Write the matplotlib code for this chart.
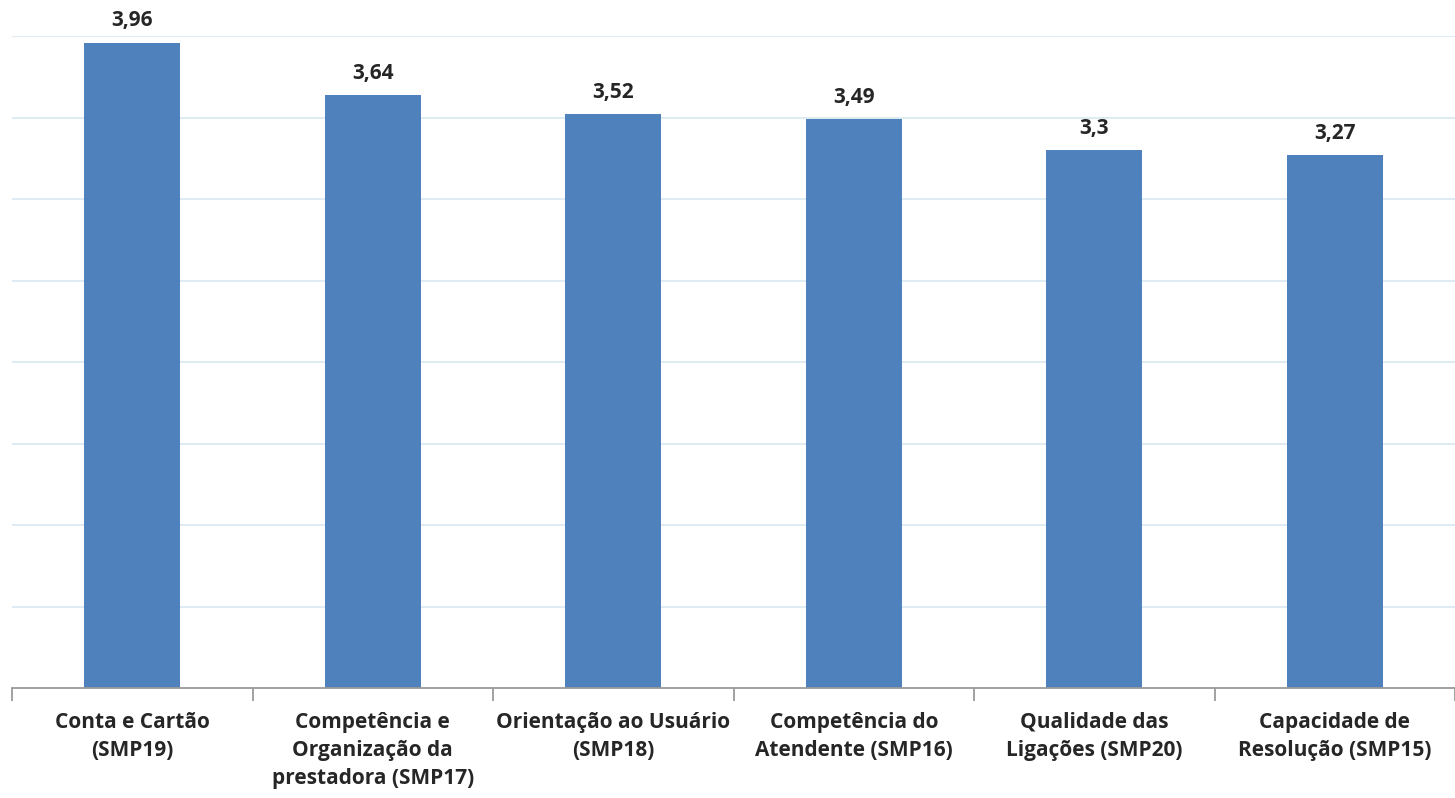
import numpy as np
from matplotlib import pyplot as plt

categories = [
    "Conta e Cartão\n(SMP19)",
    "Competência e\nOrganização da\nprestadora (SMP17)",
    "Orientação ao Usuário\n(SMP18)",
    "Competência do\nAtendente (SMP16)",
    "Qualidade das\nLigações (SMP20)",
    "Capacidade de\nResolução (SMP15)",
]
scores = [3.96, 3.64, 3.52, 3.49, 3.30, 3.27]
score_labels = ["3,96", "3,64", "3,52", "3,49", "3,3", "3,27"]

BAR_COLOR = "#4f81bd"
GRID_COLOR = "#dbe9f1"
AXIS_COLOR = "#9a9a9a"
TEXT_COLOR = "#262626"

plt.rcParams["font.family"] = ["Open Sans", "DejaVu Sans"]

fig = plt.figure(figsize=(14.55, 7.98), dpi=100)
ax = fig.add_axes([12 / 1455, 1 - 688 / 798, 1 - 12 / 1455, (688 - 36) / 798])

x = np.arange(len(categories))
bars = ax.bar(x, scores, width=0.4, color=BAR_COLOR, zorder=3)

for bar, text in zip(bars, score_labels):
    ax.annotate(text, (bar.get_x() + bar.get_width() / 2, bar.get_height()),
                xytext=(0, 8), textcoords="offset points", ha="center", va="bottom",
                fontsize=15, fontweight="bold", color=TEXT_COLOR)

ax.set_xlim(-0.5, len(categories) - 0.5)
ax.set_ylim(0, 4)
ax.set_yticks(np.arange(0.5, 4.01, 0.5))
ax.yaxis.grid(True, color=GRID_COLOR, linewidth=1.3, zorder=0)
ax.tick_params(axis="y", left=False, labelleft=False)

# category labels in the middle, tick marks between the categories
ax.set_xticks(x)
ax.set_xticklabels(categories, fontsize=15, fontweight="bold", color=TEXT_COLOR,
                   linespacing=1.45, va="top")
ax.set_xticks(np.arange(-0.5, len(categories)), minor=True)
ax.tick_params(axis="x", which="major", length=0, pad=17)
ax.tick_params(axis="x", which="minor", length=9, width=1.3, color=AXIS_COLOR, direction="out")

for side in ["top", "right", "left"]:
    ax.spines[side].set_visible(False)
ax.spines["bottom"].set_color(AXIS_COLOR)
ax.spines["bottom"].set_linewidth(1.3)
ax.spines["bottom"].set_zorder(4)

fig.savefig("out.png", dpi=100)
